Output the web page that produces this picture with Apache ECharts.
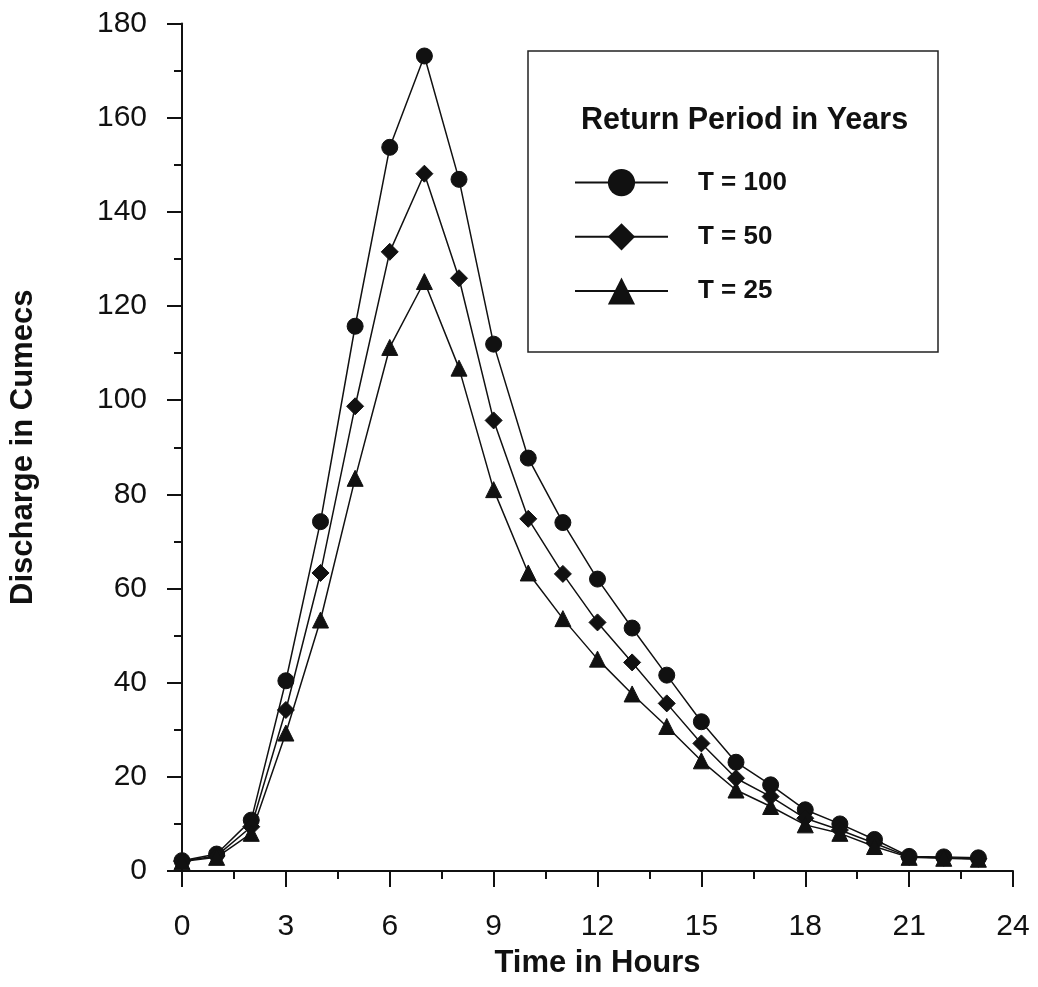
<!DOCTYPE html>
<html>
<head>
<meta charset="utf-8">
<script src="https://cdn.jsdelivr.net/npm/echarts@6/dist/echarts.min.js"></script>
<style>
  html, body { margin: 0; padding: 0; background: #fff; }
  #chart { width: 1038px; height: 987px; }
</style>
</head>
<body>
<div id="chart"></div>
<script>
const hours = [0, 1, 2, 3, 4, 5, 6, 7, 8, 9, 10, 11, 12, 13, 14, 15, 16, 17, 18, 19, 20, 21, 22, 23];
const t100 = [2.2, 3.6, 10.8, 40.4, 74.2, 115.7, 153.7, 173.1, 146.9, 111.9, 87.7, 74.0, 62.0, 51.6, 41.6, 31.7, 23.1, 18.3, 13.0, 10.0, 6.7, 3.1, 3.0, 2.8];
const t50 = [2.1, 3.2, 9.4, 34.2, 63.3, 98.7, 131.5, 148.1, 125.9, 95.7, 74.8, 63.1, 52.8, 44.3, 35.6, 27.1, 19.7, 15.8, 11.2, 8.7, 5.9, 3.0, 2.8, 2.6];
const t25 = [2.0, 2.9, 8.0, 29.3, 53.3, 83.4, 111.2, 125.2, 106.8, 81.0, 63.3, 53.6, 45.0, 37.6, 30.7, 23.4, 17.2, 13.7, 9.8, 8.0, 5.2, 2.9, 2.7, 2.5];

const ink = '#111';
const font = 'Liberation Sans, Arial, sans-serif';

const pairs = (ys) => hours.map((h, i) => [h, ys[i]]);

const makeSeries = (name, ys, symbol, size) => ({
    name: name,
    type: 'line',
    data: pairs(ys),
    symbol: symbol,
    symbolSize: size,
    showAllSymbol: true,
    lineStyle: { color: ink, width: 1.5 },
    itemStyle: { color: ink, borderColor: ink },
    emphasis: { disabled: true },
    animation: false
});

const chart = echarts.init(document.getElementById('chart'));
chart.setOption({
    backgroundColor: '#fff',
    title: {
        text: 'Return Period in Years',
        left: 576,
        top: 100,
        textStyle: { fontFamily: font, fontSize: 30.5, fontWeight: 'bold', color: ink }
    },
    graphic: [
        {
            type: 'rect',
            shape: { x: 528, y: 51, width: 410, height: 301 },
            style: { fill: 'none', stroke: '#222', lineWidth: 1.5 },
            z: 1
        }
    ],
    legend: {
        orient: 'vertical',
        left: 569,
        top: 164,
        itemWidth: 93,
        itemHeight: 34,
        itemGap: 27,
        selectedMode: false,
        textStyle: {
            fontFamily: font, fontSize: 26, fontWeight: 'bold', color: ink,
            padding: [0, 0, 0, 25]
        },
        data: ['T = 100', 'T = 50', 'T = 25']
    },
    grid: { left: 180, right: 25, top: 23.5, bottom: 116, containLabel: false },
    xAxis: {
        type: 'value',
        min: 0,
        max: 24,
        interval: 3,
        name: 'Time in Hours',
        nameLocation: 'middle',
        nameGap: 77,
        nameTextStyle: { fontFamily: font, fontSize: 31, fontWeight: 'bold', color: ink },
        axisLine: { lineStyle: { color: ink, width: 2 } },
        axisTick: { inside: false, length: 16, lineStyle: { color: ink, width: 2 } },
        minorTick: { show: true, splitNumber: 2, length: 8, lineStyle: { color: ink, width: 2 } },
        axisLabel: { fontFamily: font, fontSize: 30, color: ink, margin: 41 },
        splitLine: { show: false }
    },
    yAxis: {
        type: 'value',
        min: 0,
        max: 180,
        interval: 20,
        name: 'Discharge in Cumecs',
        nameLocation: 'middle',
        nameGap: 143,
        nameTextStyle: { fontFamily: font, fontSize: 31, fontWeight: 'bold', color: ink },
        axisLine: { show: true, lineStyle: { color: ink, width: 2 } },
        axisTick: { show: true, inside: false, length: 15, lineStyle: { color: ink, width: 2 } },
        minorTick: { show: true, splitNumber: 2, length: 8, lineStyle: { color: ink, width: 2 } },
        axisLabel: { fontFamily: font, fontSize: 30, color: ink, margin: 35 },
        splitLine: { show: false }
    },
    series: [
        makeSeries('T = 100', t100, 'circle', 16),
        makeSeries('T = 50', t50, 'diamond', 17),
        makeSeries('T = 25', t25, 'triangle', 16)
    ]
});
</script>
</body>
</html>
